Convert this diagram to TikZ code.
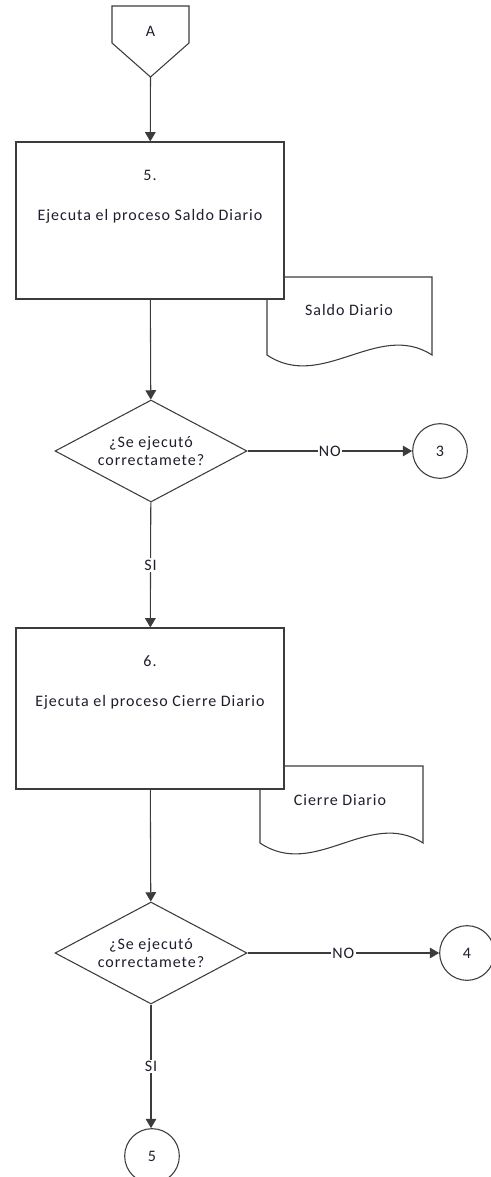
\documentclass[tikz,border=0pt]{standalone}
\usepackage{fontspec}
\setmainfont{Carlito}[LetterSpace=6]
\usepackage{tikz}
\usetikzlibrary{arrows.meta,positioning,shapes.geometric}
\definecolor{linegray}{HTML}{3C3C3C}
\definecolor{textdark}{HTML}{1E1E2E}

\begin{document}
\begin{tikzpicture}[
  x=0.75pt, y=-0.75pt,
  font=\fontsize{12}{14}\selectfont, text=textdark,
  procbox/.style={
    rectangle, draw=linegray, fill=white, line width=0.8pt,
    minimum width=201pt, inner sep=0pt
  },
  decision/.style={
    diamond, aspect=1.88, draw=linegray, fill=white, line width=0.8pt, align=center,
    minimum width=144pt, minimum height=76.5pt, inner sep=0pt
  },
  connector/.style={
    circle, draw=linegray, fill=white, line width=0.8pt,
    minimum size=41pt, inner sep=0pt
  },
  docshape/.style={draw=linegray, fill=white, line width=0.8pt},
  flowlabel/.style={fill=white, inner sep=1pt},
  arrow/.style={-{Triangle[length=7pt,width=8pt]}, draw=linegray, line width=0.8pt}
]
\useasboundingbox (0,0) rectangle (490,1177);

% off-page connector A
\draw[docshape] (112,6) -- (189,6) -- (189,43) -- (150.5,77) -- (112,43) -- cycle;
\node (offA) at (150.5,31) {A};
\coordinate (offAtip) at (150.5,77);

% documents (drawn first, the boxes cover them)
\draw[docshape] (267,277) -- (432,277) -- (432,355)
  .. controls (378,320) and (322,392) .. (267,355) -- cycle;
\node (saldodoc) at (349,310) {Saldo Diario};

\draw[docshape] (260,766) -- (423,766) -- (423,843)
  .. controls (369,808) and (315,880) .. (260,843) -- cycle;
\node (cierredoc) at (340,800) {Cierre Diario};

% step 5
\node[procbox, minimum height=117.75pt] (proc5) at (150,220.5) {};
\node[align=center] (proc5txt) at (150,197) {5.\\[16pt]Ejecuta el proceso Saldo Diario};

\node[decision] (check5) at (151,451) {¿Se ejecutó\\correctamete?};
\node[connector] (goto3) at (440,451) {3};

% step 6
\node[procbox, minimum height=120.75pt] (proc6) at (150,708.5) {};
\node[align=center] (proc6txt) at (150,682) {6.\\[16pt]Ejecuta el proceso Cierre Diario};

\node[decision] (check6) at (151,953) {¿Se ejecutó\\correctamete?};
\node[connector] (goto4) at (467,953) {4};
\node[connector] (goto5) at (152,1156) {5};

\draw[arrow] (offAtip) -- (proc5);
\draw[arrow] (proc5) -- (check5);
\draw[arrow] (check5) -- node[flowlabel] {NO} (goto3);
\draw[arrow] (check5) -- node[flowlabel] {SI} (proc6);
\draw[arrow] (proc6) -- (check6);
\draw[arrow] (check6) -- node[flowlabel] {NO} (goto4);
\draw[arrow] (check6.south) -- node[flowlabel] {SI} (check6.south |- goto5.north);
\end{tikzpicture}
\end{document}
